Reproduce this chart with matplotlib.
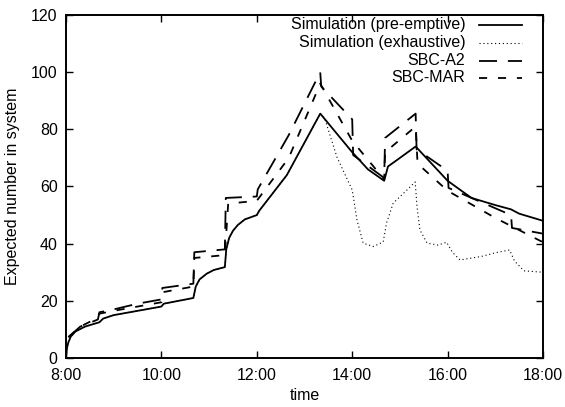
import matplotlib
matplotlib.use("Agg")
import matplotlib.pyplot as plt
from matplotlib.ticker import FuncFormatter, MultipleLocator

plt.rcParams['font.family'] = ['Liberation Sans', 'DejaVu Sans']

# time of day in hours
t_pre = [8.0, 8.02, 8.05, 8.1, 8.2, 8.4, 8.6, 8.7, 8.78, 9.0, 9.5, 10.0, 10.05, 10.67,
         10.72, 10.8, 10.95, 11.1, 11.33, 11.36, 11.42, 11.5, 11.6, 11.75, 12.0, 12.05,
         12.63, 13.33, 14.0, 14.33, 14.67, 14.75, 15.0, 15.33, 16.0, 16.5, 17.0, 17.33,
         17.5, 18.0]
v_pre = [0, 3.5, 5.5, 7.5, 9.3, 11, 12, 12.5, 13.8, 15, 16.5, 18, 19, 21,
         25, 27.5, 29.5, 30.8, 31.8, 38, 42, 44.5, 46.5, 48.5, 50, 51.5,
         64, 85.5, 72, 66, 62, 67, 70, 74, 62, 56, 53.5, 52,
         50.5, 48]

t_exh = [8.0, 8.02, 8.05, 8.1, 8.2, 8.4, 8.6, 8.7, 8.78, 9.0, 9.5, 10.0, 10.05, 10.67,
         10.72, 10.8, 10.95, 11.1, 11.33, 11.36, 11.42, 11.5, 11.6, 11.75, 12.0, 12.05,
         12.63, 13.33, 13.42, 13.68, 14.0, 14.1, 14.23, 14.44, 14.65, 14.72, 14.86,
         15.15, 15.32, 15.36, 15.42, 15.57, 15.8, 15.98, 16.1, 16.26, 16.7, 17.0, 17.3,
         17.4, 17.6, 18.0]
v_exh = [0, 3.5, 5.5, 7.5, 9.3, 11, 12, 12.5, 13.8, 15, 16.5, 18, 19, 21,
         25, 27.5, 29.5, 30.8, 31.8, 38, 42, 44.5, 46.5, 48.5, 50, 51.5,
         64, 85.5, 84, 70.3, 58.8, 48.3, 40.2, 39, 40.6, 47.2, 54.2,
         58.8, 61.6, 52.8, 44.8, 40.2, 39.5, 40.5, 37, 34.3, 35.5, 36.8, 37.8,
         34, 30.5, 30]

t_a2 = [8.05, 8.3, 8.6, 8.67, 8.7, 9.0, 9.5, 10.0, 10.02, 10.67, 10.69, 11.33, 11.35,
        12.0, 12.02, 12.67, 13.33, 13.35, 14.0, 14.02, 14.67, 14.69, 15.33, 15.35,
        16.0, 16.02, 17.33, 17.35, 18.0]
v_a2 = [7.3, 11, 13, 13.5, 16, 17, 19, 20.5, 24.5, 26, 37, 38, 56,
        56.5, 59, 78, 100, 95, 83.5, 71, 63, 77, 85.5, 73,
        65.5, 59.5, 50, 45.5, 43.5]

t_mar = [8.05, 8.3, 8.6, 8.7, 9.0, 9.5, 10.0, 10.02, 10.67, 10.69, 11.33, 11.4,
         12.0, 12.67, 13.33, 14.0, 14.67, 14.69, 15.33, 15.37, 16.0, 17.0, 18.0]
v_mar = [7.3, 11, 13.5, 15.5, 16.5, 18, 19.5, 23, 25, 35, 36, 54,
         55, 70, 96, 76, 62.5, 72, 81, 68, 58.5, 49, 40.5]

series = [
    ("Simulation (pre-emptive)", t_pre, v_pre, dict(ls='-', lw=1.3)),
    ("Simulation (exhaustive)", t_exh, v_exh, dict(ls=(0, (1, 2.5)), lw=0.8)),
    ("SBC-A2", t_a2, v_a2, dict(ls=(0, (10, 6)), lw=1.3)),
    ("SBC-MAR", t_mar, v_mar, dict(ls=(0, (4.5, 6)), lw=1.3)),
]

fig = plt.figure(figsize=(5.65, 4.07), dpi=100)
ax = fig.add_axes([66 / 565, 1 - 358 / 407, (543 - 66) / 565, (358 - 15) / 407])

for name, t, v, style in series:
    ax.plot(t, v, color='black', **style)

ax.set_xlim(8, 18)
ax.set_ylim(0, 120)
ax.xaxis.set_major_locator(MultipleLocator(2))
ax.yaxis.set_major_locator(MultipleLocator(20))
ax.xaxis.set_major_formatter(FuncFormatter(lambda x, p: f"{int(x)}:00"))
ax.tick_params(direction='in', length=5, width=1, top=True, right=True, labelsize=11.5)
ax.tick_params(axis='x', pad=7)
ax.tick_params(axis='y', pad=6)
for s in ax.spines.values():
    s.set_linewidth(1.4)
ax.set_xlabel("time", fontsize=11.5, labelpad=4)
ax.set_ylabel("Expected number in system", fontsize=11.5, labelpad=8)

# gnuplot style key: right-aligned labels, sample line to the right
rows_y = [1 - (25 - 15) / 343, 1 - (43 - 15) / 343, 1 - (61 - 15) / 343, 1 - (78 - 15) / 343]
for (name, t, v, style), y in zip(series, rows_y):
    ax.text(0.837, y, name, transform=ax.transAxes, ha='right', va='center', fontsize=11.5)
    ax.plot([0.866, 0.957], [y, y], transform=ax.transAxes, color='black', **style)

fig.savefig("out.png", dpi=100)
